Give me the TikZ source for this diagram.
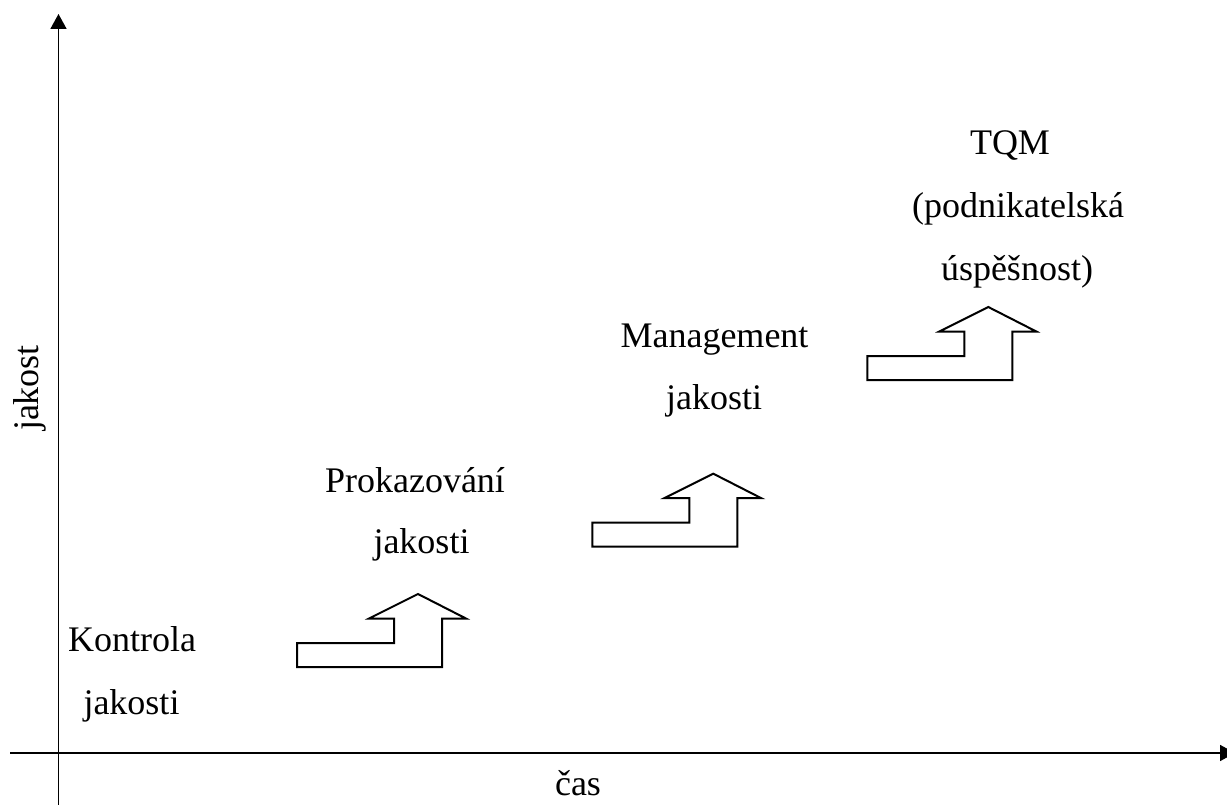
\documentclass[tikz,border=0pt]{standalone}
\usepackage{fontspec}
\setmainfont{Liberation Serif}
\usetikzlibrary{arrows.meta}
\tikzset{
  x=1pt, y=-1pt,
  axis/.style={line width=1.8pt, -{Triangle[length=15pt,width=16pt]}},
  plainaxis/.style={line width=1.8pt},
  lbl/.style={anchor=base, inner sep=0pt, font=\fontsize{36}{43}\selectfont},
  steparrow/.pic={
    \draw[line width=2pt, line join=miter]
      (0,0) -- (0,-24) -- (97,-24) -- (97,-48.5) -- (72,-48.5) -- (121,-73)
      -- (169,-48.5) -- (145,-48.5) -- (145,0) -- cycle;
  }
}
\begin{document}
\begin{tikzpicture}
\useasboundingbox (0,0) rectangle (1227,805);
\clip (0,0) rectangle (1227,805);
% axes
\coordinate (ybot) at (58.5,805);
\coordinate (ytop) at (58.5,14);
\coordinate (xl) at (10,753);
\coordinate (xr) at (1235,753);
\draw[axis] (ybot) -- (ytop);
\draw[axis] (xl) -- (xr);
% axis labels
\node[lbl, rotate=90] (ylab) at (38,388) {jakost};
\node[lbl] (xlab) at (578,795) {čas};
% step arrows
\pic (a1) at (297,667) {steparrow};
\pic (a2) at (592.3,546.7) {steparrow};
\pic (a3) at (867.3,380) {steparrow};
% labels
\node[lbl] (k1) at (132,651) {Kontrola};
\node[lbl] (k2) at (131.5,714) {jakosti};
\node[lbl] (p1) at (415,492) {Prokazování};
\node[lbl] (p2) at (421.5,553) {jakosti};
\node[lbl] (m1) at (714.5,348) {Management};
\node[lbl] (m2) at (714,409) {jakosti};
\node[lbl] (t1) at (1010,155) {TQM};
\node[lbl] (t2) at (1018,218) {(podnikatelská};
\node[lbl] (t3) at (1017,281) {úspěšnost)};
\end{tikzpicture}
\end{document}
